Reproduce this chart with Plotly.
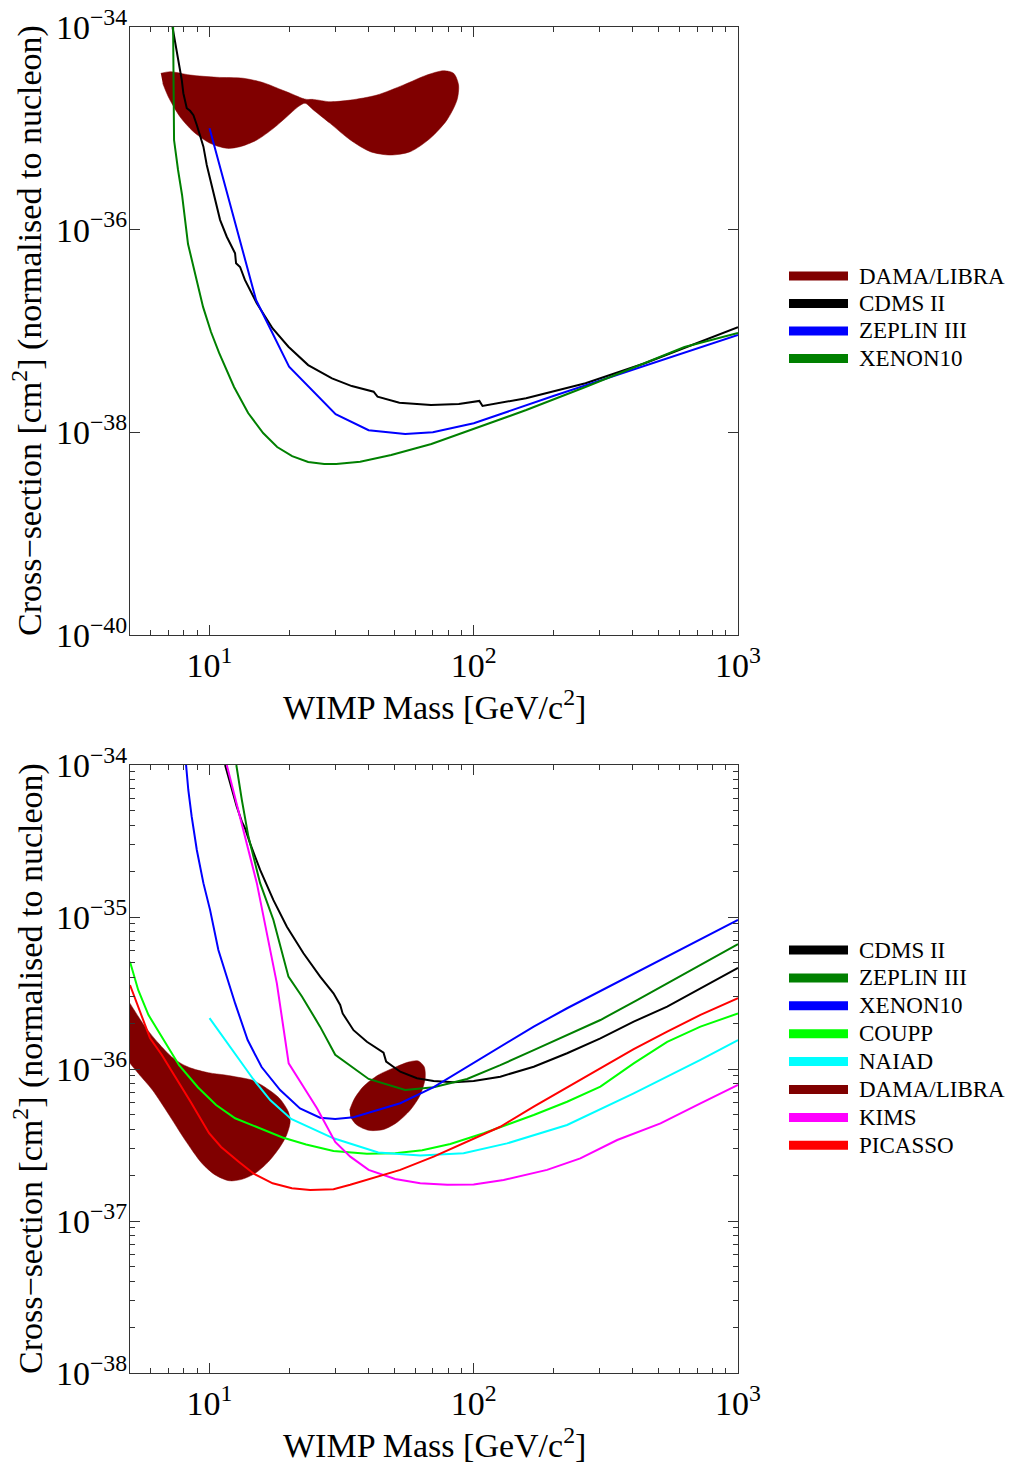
import plotly.graph_objects as go

# ---------------- upper panel: DAMA/LIBRA, CDMS II, ZEPLIN III, XENON10 ----------------
dama_top_mass = [6.54, 7.09, 8.44, 10.65, 13.43, 16.0, 18.5, 20.2, 21.4, 22.4, 23.35, 24.7, 28.6, 34.1,
                 43.0, 54.2, 66.5, 76.9, 83.9, 87.6, 86.4, 79.2, 68.4, 57.5, 48.3, 40.6, 34.1, 28.6,
                 24.7, 23.0, 21.7, 19.6, 17.45, 15.1, 13.05, 11.62, 10.05, 8.69, 7.73, 6.98, 6.65]
dama_top_xsec = [3.49e-35, 3.62e-35, 3.36e-35, 3.19e-35, 3.12e-35, 2.82e-35, 2.43e-35, 2.22e-35, 2.08e-35,
                 1.98e-35, 1.93e-35, 1.93e-35, 1.83e-35, 1.90e-35, 2.13e-35, 2.68e-35, 3.36e-35, 3.70e-35,
                 3.49e-35, 2.68e-35, 1.90e-35, 1.21e-35, 7.97e-36, 5.88e-36, 5.45e-36, 5.88e-36, 7.67e-36,
                 1.12e-35, 1.52e-35, 1.77e-35, 1.64e-35, 1.30e-35, 1.0e-35, 7.67e-36, 6.59e-36, 6.35e-36,
                 7.12e-36, 9.26e-36, 1.30e-35, 2.05e-35, 2.78e-35]

cdms_top_mass = [7.24, 7.62, 7.85, 7.96, 8.20, 8.44, 8.69, 8.95, 9.21, 9.48, 9.76, 10.2, 10.96, 11.62,
                 12.14, 12.49, 12.6, 13.05, 13.61, 15.09, 17.33, 19.89, 23.62, 29.07, 34.54, 41.78, 43.23,
                 52.3, 68.9, 87.8, 105, 107.9, 157.7, 264.8, 444, 745.6, 1000]
cdms_top_xsec = [1e-34, 4.72e-35, 3.0e-35, 2.22e-35, 1.58e-35, 1.49e-35, 1.35e-35, 1.08e-35, 8.59e-36,
                 6.59e-36, 4.35e-36, 2.65e-36, 1.25e-36, 8.52e-37, 6.79e-37, 5.85e-37, 4.66e-37, 4.28e-37,
                 3.19e-37, 1.88e-37, 1.06e-37, 7.0e-38, 4.61e-38, 3.41e-38, 2.86e-38, 2.52e-38, 2.25e-38,
                 1.96e-38, 1.86e-38, 1.90e-38, 2.04e-38, 1.82e-38, 2.17e-38, 3.05e-38, 4.8e-38, 8.15e-38,
                 1.09e-37]

zeplin_top_mass = [10, 15, 20, 30, 40, 55, 70, 100, 200, 500, 1000]
zeplin_top_xsec = [1.0e-35, 2.02e-37, 4.45e-38, 1.51e-38, 1.05e-38, 9.62e-39, 1.0e-38, 1.23e-38,
                   2.28e-38, 5.06e-38, 9.13e-38]

xenon_top_mass = [7.28, 7.34, 7.60, 7.87, 8.29, 8.74, 9.45, 10.13, 10.87, 12.38, 14.0, 15.95, 18.03,
                  20.54, 23.62, 27.16, 30.15, 37.17, 48.7, 69.1, 100.5, 158, 264.6, 442.6, 627.5, 1000]
xenon_top_xsec = [1e-34, 7.67e-36, 3.88e-36, 2.20e-36, 7.22e-37, 4.0e-37, 1.73e-37, 9.77e-38, 6.07e-38,
                  2.80e-38, 1.55e-38, 9.85e-39, 7.16e-39, 5.83e-39, 5.09e-39, 4.87e-39, 4.86e-39,
                  5.13e-39, 5.97e-39, 7.67e-39, 1.08e-38, 1.66e-38, 2.80e-38, 4.83e-38, 6.95e-38, 9.55e-38]

# ---------------- lower panel ----------------
dama_low_a_mass = [4.39, 5.0, 5.70, 6.40, 7.19, 7.85, 8.56, 9.90, 11.45, 12.86, 14.45, 15.95, 18.34,
                   19.89, 20.19, 19.58, 18.5, 16.66, 14.88, 13.25, 11.86, 10.5, 9.35, 8.08, 7.03, 6.08,
                   5.37, 5.0, 4.39]
dama_low_a_xsec = [3.85e-36, 2.70e-36, 1.90e-36, 1.48e-36, 1.20e-36, 1.08e-36, 1.01e-36, 9.45e-37,
                   9.13e-37, 8.82e-37, 8.46e-37, 7.73e-37, 6.45e-37, 5.21e-37, 4.48e-37, 3.68e-37,
                   3.08e-37, 2.44e-37, 2.06e-37, 1.88e-37, 1.84e-37, 2.01e-37, 2.40e-37, 3.41e-37,
                   4.98e-37, 7.27e-37, 9.37e-37, 1.09e-36, 1.44e-36]
dama_low_b_mass = [33.9, 35.3, 38.2, 43.5, 50.0, 56.5, 61.6, 64.9, 65.5, 62.7, 57.5, 51.2, 45.55,
                   40.0, 35.9, 34.1]
dama_low_b_xsec = [5.37e-37, 6.35e-37, 7.67e-37, 9.13e-37, 1.02e-36, 1.11e-36, 1.13e-36, 1.035e-36,
                   8.73e-37, 6.74e-37, 5.37e-37, 4.45e-37, 4.0e-37, 3.95e-37, 4.31e-37, 4.85e-37]

cdms_low_mass = [11.45, 12.14, 12.68, 13.25, 13.63, 14.24, 15.54, 17.45, 19.62, 22.67, 26.22, 29.45,
                 31.22, 31.9, 35.07, 39.4, 45.55, 46.6, 52.7, 60.95, 70.45, 83.9, 99.9, 126, 168.6,
                 225.5, 301.5, 403, 539.5, 1000]
cdms_low_xsec = [1e-34, 6.85e-35, 5.32e-35, 4.24e-35, 3.83e-35, 3.05e-35, 2.04e-35, 1.29e-35, 8.63e-36,
                 5.77e-36, 4.05e-36, 3.15e-36, 2.64e-36, 2.32e-36, 1.80e-36, 1.51e-36, 1.28e-36, 1.12e-36,
                 9.6e-37, 8.69e-37, 8.34e-37, 8.18e-37, 8.34e-37, 8.9e-37, 1.035e-36, 1.27e-36, 1.59e-36,
                 2.05e-36, 2.57e-36, 4.62e-36]

zeplin_low_mass = [12.63, 13.25, 14.03, 14.88, 15.54, 17.45, 19.89, 22.4, 26.2, 29.9, 35.1, 40.0, 55.0,
                   70.5, 94.3, 126, 168.6, 225.5, 301.5, 415, 1000]
zeplin_low_xsec = [1e-34, 5.89e-35, 3.38e-35, 2.25e-35, 1.67e-35, 9.56e-36, 4.05e-36, 2.99e-36, 1.90e-36,
                   1.24e-36, 1.01e-36, 8.6e-37, 7.27e-37, 7.58e-37, 8.6e-37, 1.06e-36, 1.33e-36, 1.67e-36,
                   2.10e-36, 2.84e-36, 6.64e-36]

xenon_low_mass = [8.15, 8.31, 8.56, 8.95, 9.48, 10.05, 10.8, 11.62, 12.5, 13.94, 15.74, 18.5, 22.0,
                  26.2, 29.9, 35.1, 40.6, 52.7, 70.5, 94.3, 126, 168.6, 225.5, 1000]
xenon_low_xsec = [1e-34, 6.85e-35, 4.57e-35, 2.76e-35, 1.67e-35, 1.11e-35, 6.07e-36, 4.05e-36, 2.7e-36,
                  1.55e-36, 1.03e-36, 7.27e-37, 5.50e-37, 4.78e-37, 4.69e-37, 4.81e-37, 5.17e-37,
                  5.95e-37, 7.61e-37, 1.035e-36, 1.40e-36, 1.90e-36, 2.51e-36, 9.56e-36]

coupp_mass = [5.0, 5.37, 5.87, 6.64, 7.67, 9.05, 10.59, 12.5, 15.4, 18.9, 23.2, 29.45, 39.4, 50.4, 63.8,
              81.5, 109, 168.6, 225.5, 301.5, 403, 539.5, 721, 1000]
coupp_xsec = [5.08e-36, 3.31e-36, 2.27e-36, 1.60e-36, 1.06e-36, 7.56e-37, 5.80e-37, 4.74e-37, 4.09e-37,
              3.54e-37, 3.19e-37, 2.89e-37, 2.77e-37, 2.79e-37, 2.92e-37, 3.21e-37, 3.78e-37, 4.98e-37,
              6.09e-37, 7.65e-37, 1.09e-36, 1.51e-36, 1.90e-36, 2.32e-36]

naiad_mass = [10.0, 14.62, 16.96, 20.36, 29.45, 43.5, 62.7, 91.5, 133.6, 225.5, 403, 721, 1000]
naiad_xsec = [2.16e-36, 8.6e-37, 6.25e-37, 4.69e-37, 3.50e-37, 2.82e-37, 2.70e-37, 2.79e-37, 3.24e-37,
              4.28e-37, 6.92e-37, 1.15e-36, 1.55e-36]

kims_mass = [11.62, 13.05, 15.1, 17.98, 19.93, 22.67, 25.5, 29.9, 34.1, 40.0, 50.4, 62.7, 79.4, 99.9,
             129.7, 189.4, 253, 349, 509, 721, 1000]
kims_xsec = [1e-34, 4.57e-35, 1.67e-35, 3.66e-36, 1.09e-36, 7.65e-37, 5.51e-37, 3.31e-37, 2.65e-37,
             2.17e-37, 1.89e-37, 1.77e-37, 1.73e-37, 1.74e-37, 1.86e-37, 2.17e-37, 2.58e-37, 3.41e-37,
             4.39e-37, 5.95e-37, 7.85e-37]

picasso_mass = [5.0, 5.37, 5.95, 6.59, 7.24, 8.51, 9.96, 11.06, 12.86, 14.75, 17.33, 20.49, 24.03, 29.45,
                34.07, 39.4, 52.7, 70.5, 94.3, 126, 168.6, 225.5, 301.5, 403, 539.5, 721, 1000]
picasso_xsec = [3.57e-36, 2.57e-36, 1.60e-36, 1.24e-36, 9.56e-37, 6.02e-37, 3.78e-37, 3.07e-37, 2.46e-37,
                2.04e-37, 1.77e-37, 1.64e-37, 1.60e-37, 1.62e-37, 1.73e-37, 1.86e-37, 2.17e-37,
                2.65e-37, 3.32e-37, 4.17e-37, 5.65e-37, 7.58e-37, 1.01e-36, 1.35e-36, 1.76e-36,
                2.27e-36, 2.93e-36]

# axis tick values and labels
mass_ticks = [10, 100, 1000]
mass_tick_text = ["10<sup>1</sup>", "10<sup>2</sup>", "10<sup>3</sup>"]
top_xsec_ticks = [1e-40, 1e-38, 1e-36, 1e-34]
top_xsec_text = ["10<sup>−40</sup>", "10<sup>−38</sup>", "10<sup>−36</sup>", "10<sup>−34</sup>"]
low_xsec_ticks = [1e-38, 1e-37, 1e-36, 1e-35, 1e-34]
low_xsec_text = ["10<sup>−38</sup>", "10<sup>−37</sup>", "10<sup>−36</sup>", "10<sup>−35</sup>",
                 "10<sup>−34</sup>"]

top_legend = [("DAMA/LIBRA", "#800000"), ("CDMS II", "#000000"), ("ZEPLIN III", "#0000ff"),
              ("XENON10", "#008000")]
low_legend = [("CDMS II", "#000000"), ("ZEPLIN III", "#008000"), ("XENON10", "#0000ff"),
              ("COUPP", "#00ff00"), ("NAIAD", "#00ffff"), ("DAMA/LIBRA", "#800000"),
              ("KIMS", "#ff00ff"), ("PICASSO", "#ff0000")]

# ---------------- geometry (pixels of the 1016x1464 page) ----------------
W, H = 1016, 1464
ML, MR, MT, MB = 130, 278, 27, 91
PW, PH = W - ML - MR, H - MT - MB
FONT = "Liberation Serif, Times New Roman, serif"
AXC = "#333333"


def fx(px):
    return (px - ML) / PW


def fy(py):
    return (H - MB - py) / PH


fig = go.Figure()


def area(mass, xsec, xa, ya):
    fig.add_trace(go.Scatter(x=mass, y=xsec, xaxis=xa, yaxis=ya, mode="lines", fill="toself",
                             fillcolor="#800000", line=dict(color="#800000", width=0.5, shape="spline",
                                                            smoothing=0.8),
                             showlegend=False, hoverinfo="skip"))


def curve(mass, xsec, color, xa, ya):
    fig.add_trace(go.Scatter(x=mass, y=xsec, xaxis=xa, yaxis=ya, mode="lines",
                             line=dict(color=color, width=2), showlegend=False))


# upper panel
area(dama_top_mass, dama_top_xsec, "x", "y")
curve(cdms_top_mass, cdms_top_xsec, "#000000", "x", "y")
curve(zeplin_top_mass, zeplin_top_xsec, "#0000ff", "x", "y")
curve(xenon_top_mass, xenon_top_xsec, "#008000", "x", "y")

# lower panel
area(dama_low_a_mass, dama_low_a_xsec, "x2", "y2")
area(dama_low_b_mass, dama_low_b_xsec, "x2", "y2")
curve(cdms_low_mass, cdms_low_xsec, "#000000", "x2", "y2")
curve(zeplin_low_mass, zeplin_low_xsec, "#008000", "x2", "y2")
curve(xenon_low_mass, xenon_low_xsec, "#0000ff", "x2", "y2")
curve(coupp_mass, coupp_xsec, "#00ff00", "x2", "y2")
curve(naiad_mass, naiad_xsec, "#00ffff", "x2", "y2")
curve(kims_mass, kims_xsec, "#ff00ff", "x2", "y2")
curve(picasso_mass, picasso_xsec, "#ff0000", "x2", "y2")

mass_minor = [k * 10 ** e for e in (0, 1, 2) for k in range(2, 10) if 5 < k * 10 ** e < 1000]
low_minor = [k * 10.0 ** e for e in range(-38, -34) for k in range(2, 10)]


def axis_style(**kw):
    base = dict(type="log", showgrid=False, zeroline=False, showline=True, linecolor=AXC, linewidth=1.2,
                mirror="ticks", ticks="inside", ticklen=10, tickwidth=1, tickcolor=AXC, automargin=False,
                tickfont=dict(family=FONT, size=34, color="#000000"), tickmode="array")
    base.update(kw)
    return base


xminor = dict(tickmode="array", tickvals=mass_minor, ticks="inside", ticklen=5, tickwidth=1,
              tickcolor=AXC, showgrid=False)

top_dom = [fy(635), 1.0]
low_dom = [0.0, fy(765)]

fig.update_layout(
    width=W, height=H, margin=dict(l=ML, r=MR, t=MT, b=MB, autoexpand=False),
    paper_bgcolor="white", plot_bgcolor="white", showlegend=False,
    xaxis=axis_style(range=[0.69897, 3], tickvals=mass_ticks, ticktext=mass_tick_text,
                     anchor="y", domain=[0, 1], minor=xminor),
    yaxis=axis_style(range=[-40, -34], tickvals=top_xsec_ticks, ticktext=top_xsec_text,
                     anchor="x", domain=top_dom, ticklabelstandoff=-5),
    xaxis2=axis_style(range=[0.69897, 3], tickvals=mass_ticks, ticktext=mass_tick_text,
                      anchor="y2", domain=[0, 1], minor=xminor),
    yaxis2=axis_style(range=[-38, -34], tickvals=low_xsec_ticks, ticktext=low_xsec_text,
                      anchor="x2", domain=low_dom, ticklabelstandoff=-5,
                      minor=dict(tickmode="array", tickvals=low_minor, ticks="inside", ticklen=5,
                                 tickwidth=1, tickcolor=AXC, showgrid=False)),
)

# axis titles
title_font = dict(family=FONT, size=34, color="#000000")
ann = []
for cy_x, cy_y in ((705, 331), (1443, 1069)):
    ann.append(dict(text="WIMP Mass [GeV/c<sup>2</sup>]", xref="paper", yref="paper", x=fx(434),
                    y=fy(cy_x), xanchor="center", yanchor="middle", showarrow=False, font=title_font))
    ann.append(dict(text="Cross−section [cm<sup>2</sup>] (normalised to nucleon)", xref="paper",
                    yref="paper", x=fx(28), y=fy(cy_y), xanchor="center", yanchor="middle",
                    textangle=-90, showarrow=False, font=title_font))

# legends drawn as thick swatches with labels
shapes = []
legend_font = dict(family=FONT, size=23, color="#000000")
for entries, y0, step in ((top_legend, 276, 27.5), (low_legend, 950, 27.9)):
    for i, (name, color) in enumerate(entries):
        yy = fy(y0 + i * step)
        shapes.append(dict(type="line", xref="paper", yref="paper", x0=fx(789), x1=fx(848), y0=yy, y1=yy,
                           line=dict(color=color, width=9)))
        ann.append(dict(text=name, xref="paper", yref="paper", x=fx(857), y=yy, xanchor="left",
                        yanchor="middle", showarrow=False, font=legend_font))

fig.update_layout(annotations=ann, shapes=shapes)

fig.write_html("out.html")
